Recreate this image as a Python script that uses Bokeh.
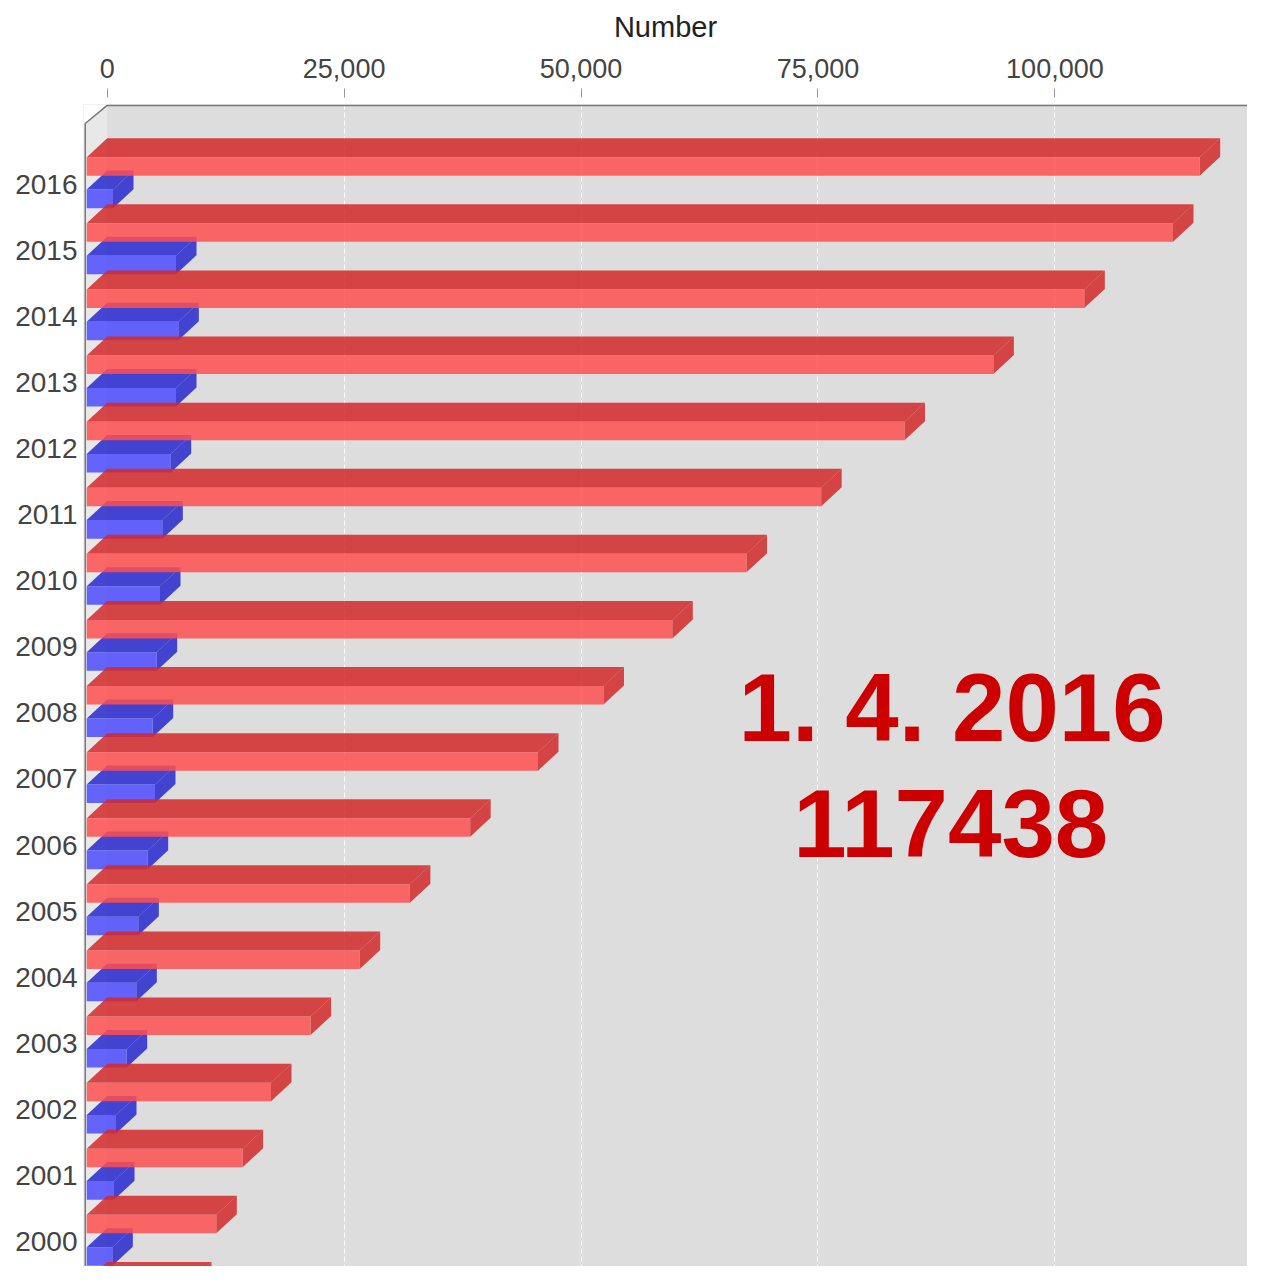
from bokeh.plotting import figure
from bokeh.models import Range1d, FixedTicker, NumeralTickFormatter
from bokeh.core.properties import value
from bokeh.embed import file_html
from bokeh.resources import INLINE

# ---------------- data ----------------
years = ["2016", "2015", "2014", "2013", "2012", "2011", "2010", "2009", "2008",
         "2007", "2006", "2005", "2004", "2003", "2002", "2001", "2000", "1999"]
red_values = [117438, 114625, 105265, 95674, 86293, 77503, 69621, 61792, 54532,
              47620, 40466, 34103, 28807, 23626, 19447, 16450, 13675, 11005]
blue_values = [2775, 9423, 9666, 9423, 8864, 7977, 7735, 7386, 6964,
               7207, 6437, 5445, 5234, 4221, 3092, 2881, 2701]
x_ticks = [0, 25000, 50000, 75000, 100000]
grid_ticks = [25000, 50000, 75000, 100000]
axis_title = "Number"
date_text = "1. 4. 2016"
total_text = "117438"

# ---------------- geometry (pixels -> data units) ----------------
W, H = 1247, 1266
LEFT_BORDER, TOP_BORDER = 83, 104
FRAME_W = W - LEFT_BORDER
FRAME_H = H - TOP_BORDER
PX_PER_UNIT = 0.009477          # horizontal pixels per unit of value
ZERO_OFFSET_PX = 23.7           # frame left edge -> value 0 (back wall)
CAT_PX = 66.1                   # pixels per category
TOP_TO_FIRST_PX = 79.5          # frame top -> first category centre

x_start = -ZERO_OFFSET_PX / PX_PER_UNIT
x_end = x_start + FRAME_W / PX_PER_UNIT
y_top = -TOP_TO_FIRST_PX / CAT_PX
y_bottom = y_top + FRAME_H / CAT_PX

DXB = 20.5 / PX_PER_UNIT        # bar depth (x)
DXW = 22.0 / PX_PER_UNIT        # wall depth (x)
DY = 19.0 / CAT_PX              # depth (y)

p = figure(width=W, height=H, output_backend="svg", toolbar_location=None,
           x_range=Range1d(x_start, x_end), y_range=Range1d(y_bottom, y_top),
           x_axis_location="above", min_border_left=LEFT_BORDER,
           min_border_top=TOP_BORDER, min_border_right=0, min_border_bottom=0)
p.background_fill_color = "#DDDDDD"
p.border_fill_color = "white"
p.outline_line_color = None

# x axis (top)
xa = p.xaxis[0]
xa.ticker = FixedTicker(ticks=x_ticks)
xa.formatter = NumeralTickFormatter(format="0,0")
xa.axis_label = axis_title
xa.axis_label_text_font = "Liberation Sans"
xa.axis_label_text_font_size = "29px"
xa.axis_label_text_font_style = "normal"
xa.axis_label_text_color = "#222222"
xa.axis_label_standoff = 13
xa.major_label_text_font = "Liberation Sans"
xa.major_label_text_font_size = "27px"
xa.major_label_text_color = "#444444"
xa.major_label_standoff = 11
xa.axis_line_color = None
xa.major_tick_in = -7
xa.major_tick_out = 16
xa.major_tick_line_color = "#999999"
xa.minor_tick_line_color = None

# y axis (categories)
ya = p.yaxis[0]
ya.ticker = FixedTicker(ticks=list(range(len(years))))
ya.major_label_overrides = {i: y for i, y in enumerate(years)}
ya.major_label_text_font = "Liberation Sans"
ya.major_label_text_font_size = "28px"
ya.major_label_text_color = "#444444"
ya.major_label_standoff = 0
ya.axis_line_color = None
ya.major_tick_line_color = None
ya.minor_tick_line_color = None

p.xgrid.ticker = FixedTicker(ticks=grid_ticks)
p.xgrid.grid_line_color = "white"
p.xgrid.grid_line_dash = "5 3"
p.xgrid.grid_line_alpha = 0.9
p.ygrid.visible = False

# white area outside the walls (top-left triangle + strip left of wall)
p.patch(x=[x_start, 0, -DXW, -DXW, x_start],
        y=[y_top, y_top, y_top + DY, y_bottom + 1, y_bottom + 1],
        fill_color="white", line_color=None)
# left wall
p.patch(x=[0, -DXW, -DXW, 0], y=[y_top, y_top + DY, y_bottom + 1, y_bottom + 1],
        fill_color="#E8E8E8", line_color=None)


def draw_series(vals, off0, off1, front_col, dark_col):
    left, right, top, bottom = [], [], [], []
    txs, tys, sxs, sys_ = [], [], [], []
    for i, v in enumerate(vals):
        t, b = i + off0, i + off1
        left.append(-DXB); right.append(v - DXB); top.append(t); bottom.append(b)
        txs.append([-DXB, 0, v, v - DXB]); tys.append([t, t - DY, t - DY, t])
        sxs.append([v - DXB, v, v, v - DXB]); sys_.append([t, t - DY, b - DY, b])
    p.patches(xs=txs, ys=tys, fill_color=dark_col, fill_alpha=0.85, line_color=None)
    p.patches(xs=sxs, ys=sys_, fill_color=dark_col, fill_alpha=0.85, line_color=None)
    p.quad(left=left, right=right, top=top, bottom=bottom,
           fill_color=front_col, fill_alpha=0.85, line_color=None)


draw_series(blue_values, 0.085, 0.365, "#4C4CFF", "#2828D0")
draw_series(red_values, -0.405, -0.125, "#FE4F4F", "#D22929")

# outline of walls
p.line(x=[-DXW, -DXW, 0, x_end], y=[y_bottom + 1, y_top + DY, y_top + 0.9 / CAT_PX, y_top + 0.9 / CAT_PX],
       line_color="#7A7A7A", line_width=1.6)

# big annotation
p.text(x=[89150, 89000], y=[(706.7 - 183.5) / CAT_PX, (822.7 - 183.5) / CAT_PX],
       text=[date_text, total_text], text_font=value("Liberation Sans"),
       text_font_style="bold", text_font_size="96px", text_color="#CC0000",
       text_align="center", text_baseline="alphabetic")

open("out.html", "w").write(file_html(p, INLINE))
